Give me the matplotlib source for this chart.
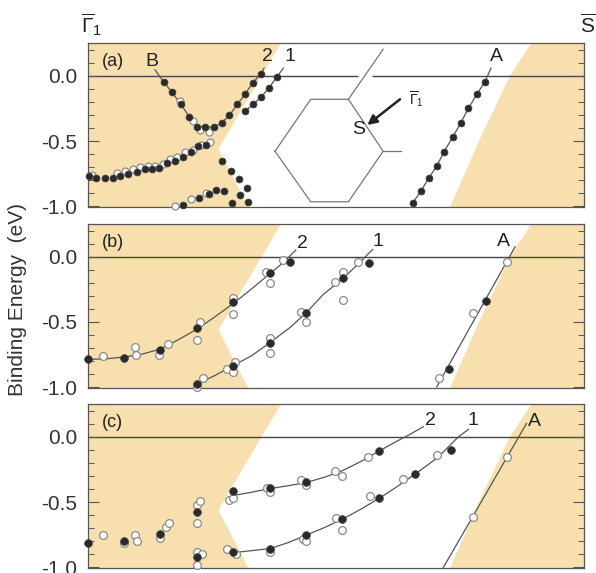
import matplotlib.pyplot as plt
from matplotlib.ticker import MultipleLocator, FormatStrFormatter

plt.rcParams['font.family'] = ['Liberation Sans', 'DejaVu Sans']
plt.rcParams['mathtext.fontset'] = 'custom'
plt.rcParams['mathtext.rm'] = 'Liberation Sans'
plt.rcParams['mathtext.it'] = 'Liberation Sans:italic'
plt.rcParams['axes.unicode_minus'] = False

# k runs from Gamma1-bar (0) to S-bar (1), energies in eV
E_TOP, E_BOT = 0.25, -1.005

# projected bulk bands (same shape in all three panels)
bulk_left_k = [0.389, 0.263, 0.323]
bulk_left_E = [E_TOP, -0.56, E_BOT]
bulk_right_k = [0.894, 0.851, 0.790, 0.730]
bulk_right_E = [E_TOP, 0.0, -0.485, E_BOT]

# ---- panel (a)
a_fill_k = [0.153, 0.169, 0.187, 0.204, 0.219, 0.236, 0.253, 0.270, 0.285, 0.301, 0.317, 0.332, 0.348,
            0.317, 0.333, 0.349, 0.365, 0.380,
            0.001, 0.017, 0.034, 0.051, 0.065, 0.081, 0.098, 0.115, 0.128, 0.144, 0.159, 0.175, 0.191, 0.207, 0.222, 0.238,
            0.271, 0.288, 0.305, 0.321, 0.306, 0.290, 0.323,
            0.192, 0.224, 0.243, 0.258, 0.274,
            0.655, 0.671, 0.687, 0.703, 0.718, 0.735, 0.751, 0.767, 0.784, 0.800]
a_fill_E = [-0.050, -0.126, -0.217, -0.313, -0.389, -0.389, -0.396, -0.359, -0.303, -0.220, -0.139, -0.055, 0.013,
            -0.270, -0.220, -0.162, -0.093, -0.013,
            -0.768, -0.780, -0.780, -0.780, -0.768, -0.750, -0.737, -0.717, -0.717, -0.705, -0.667, -0.649, -0.624, -0.586, -0.535, -0.528,
            -0.654, -0.732, -0.788, -0.858, -0.914, -0.977, -0.970,
            -0.990, -0.939, -0.909, -0.876, -0.884,
            -0.972, -0.884, -0.783, -0.692, -0.581, -0.472, -0.364, -0.250, -0.141, -0.048]
a_open_k = [0.185, 0.212, 0.226, 0.243,
            0.007, 0.058, 0.075, 0.090, 0.105, 0.120, 0.135, 0.151, 0.165, 0.180, 0.196, 0.212, 0.228, 0.245,
            0.175, 0.208, 0.238]
a_open_E = [-0.194, -0.346, -0.414, -0.434,
            -0.763, -0.745, -0.732, -0.717, -0.702, -0.692, -0.692, -0.677, -0.641, -0.621, -0.586, -0.566, -0.528, -0.510,
            -0.997, -0.947, -0.894]
a_curves = [
    ([0.135, 0.153, 0.169, 0.187, 0.204, 0.219, 0.236, 0.253, 0.270, 0.285, 0.301, 0.317, 0.332, 0.348, 0.355],
     [0.045, -0.050, -0.126, -0.217, -0.313, -0.389, -0.389, -0.396, -0.359, -0.303, -0.220, -0.139, -0.055, 0.013, 0.058]),
    ([0.317, 0.333, 0.349, 0.365, 0.380, 0.394],
     [-0.270, -0.220, -0.162, -0.093, -0.013, 0.058]),
    ([0.655, 0.671, 0.687, 0.703, 0.718, 0.735, 0.751, 0.767, 0.784, 0.800, 0.8125],
     [-0.972, -0.884, -0.783, -0.692, -0.581, -0.472, -0.364, -0.250, -0.141, -0.048, 0.058]),
]
a_labels = [('B', 0.129, 0.106), ('2', 0.362, 0.146), ('1', 0.407, 0.146), ('A', 0.824, 0.146)]

# ---- panel (b)
b_fill_k = [0.0, 0.073, 0.145, 0.219, 0.293, 0.366, 0.407,
            0.219, 0.293, 0.366, 0.440, 0.515, 0.567,
            0.728, 0.802]
b_fill_E = [-0.783, -0.778, -0.712, -0.543, -0.348, -0.126, -0.038,
            -0.977, -0.833, -0.662, -0.429, -0.164, -0.051,
            -0.859, -0.341]
b_open_k = [0.031, 0.095, 0.097, 0.144, 0.161, 0.219, 0.226, 0.293, 0.293, 0.359, 0.367, 0.394,
            0.219, 0.231, 0.280, 0.293, 0.296, 0.366, 0.367, 0.429, 0.440, 0.497, 0.515, 0.515, 0.545,
            0.708, 0.776, 0.844]
b_open_E = [-0.758, -0.689, -0.750, -0.750, -0.669, -0.636, -0.500, -0.316, -0.442, -0.114, -0.202, -0.025,
            -0.997, -0.927, -0.859, -0.879, -0.803, -0.626, -0.737, -0.424, -0.500, -0.194, -0.114, -0.328, -0.043,
            -0.927, -0.434, -0.043]
b_curves = [
    ([0.0, 0.036, 0.073, 0.110, 0.145, 0.182, 0.219, 0.256, 0.293, 0.330, 0.366, 0.392, 0.419],
     [-0.786, -0.782, -0.768, -0.745, -0.708, -0.636, -0.556, -0.460, -0.358, -0.246, -0.132, -0.050, 0.050]),
    ([0.219, 0.256, 0.293, 0.330, 0.366, 0.407, 0.440, 0.474, 0.515, 0.545, 0.574],
     [-0.977, -0.909, -0.833, -0.758, -0.660, -0.543, -0.429, -0.290, -0.164, -0.055, 0.056]),
    ([0.703, 0.861], [-0.997, 0.076]),
]
b_labels = [('2', 0.433, 0.104), ('1', 0.585, 0.114), ('A', 0.837, 0.114)]

# ---- panel (c)
c_fill_k = [0.0, 0.073, 0.145, 0.219, 0.219,
            0.293, 0.366, 0.440, 0.587,
            0.293, 0.366, 0.440, 0.513, 0.587, 0.660, 0.732]
c_fill_E = [-0.810, -0.798, -0.745, -0.576, -0.919,
            -0.412, -0.396, -0.348, -0.106,
            -0.884, -0.856, -0.753, -0.631, -0.472, -0.285, -0.101]
c_open_k = [0.030, 0.073, 0.094, 0.099, 0.145, 0.157, 0.164, 0.219, 0.226, 0.219, 0.219, 0.230, 0.219,
            0.285, 0.293, 0.361, 0.366, 0.429, 0.440, 0.497, 0.513, 0.565,
            0.281, 0.298, 0.366, 0.433, 0.440, 0.500, 0.513, 0.569, 0.636, 0.703,
            0.776, 0.844]
c_open_E = [-0.750, -0.813, -0.750, -0.795, -0.775, -0.694, -0.659, -0.525, -0.492, -0.664, -0.884, -0.894, -0.985,
            -0.485, -0.472, -0.394, -0.427, -0.333, -0.371, -0.260, -0.303, -0.152,
            -0.856, -0.897, -0.881, -0.783, -0.795, -0.626, -0.715, -0.455, -0.323, -0.139,
            -0.611, -0.159]
c_curves = [
    ([0.290, 0.330, 0.367, 0.404, 0.440, 0.477, 0.513, 0.550, 0.587, 0.620, 0.650, 0.676],
     [-0.452, -0.425, -0.397, -0.375, -0.350, -0.310, -0.260, -0.190, -0.110, -0.040, 0.020, 0.076]),
    ([0.296, 0.330, 0.367, 0.404, 0.440, 0.477, 0.513, 0.550, 0.587, 0.624, 0.660, 0.705, 0.747, 0.767],
     [-0.886, -0.872, -0.856, -0.810, -0.753, -0.695, -0.631, -0.555, -0.472, -0.380, -0.285, -0.160, 0.0, 0.056]),
    ([0.716, 0.884], [-1.003, 0.101]),
]
c_labels = [('2', 0.690, 0.125), ('1', 0.777, 0.125), ('A', 0.901, 0.118)]

# surface Brillouin zone sketch in panel (a), axes fraction
hex_x = [0.377, 0.449, 0.525, 0.595, 0.525, 0.449, 0.377]
hex_y = [0.340, 0.657, 0.657, 0.340, 0.032, 0.032, 0.340]

BULK = '#f7e0ad'
FILLED = '#2a2a2a'
OPEN_EDGE = '#8a8a8a'
LINE = '#555555'

fig = plt.figure(figsize=(5.96, 5.73), dpi=100)
rects = [[0.1477, 0.6387, 0.8322, 0.2862],
         [0.1477, 0.3229, 0.8322, 0.2862],
         [0.1477, 0.0087, 0.8322, 0.2862]]

panels = [
    ('(a)', a_fill_k, a_fill_E, a_open_k, a_open_E, a_curves, a_labels, 5.0),
    ('(b)', b_fill_k, b_fill_E, b_open_k, b_open_E, b_curves, b_labels, 5.6),
    ('(c)', c_fill_k, c_fill_E, c_open_k, c_open_E, c_curves, c_labels, 5.6),
]

axes = []
for rect, (tag, fk, fE, ok, oE, curves, labels, ms) in zip(rects, panels):
    ax = fig.add_axes(rect)
    axes.append(ax)
    ax.set_xlim(0, 1)
    ax.set_ylim(E_BOT, E_TOP)

    ax.fill([0] + bulk_left_k + [0], [E_TOP] + bulk_left_E + [E_BOT],
            color=BULK, lw=0, zorder=0)
    ax.fill([1] + bulk_right_k + [1], [E_TOP] + bulk_right_E + [E_BOT],
            color=BULK, lw=0, zorder=0)

    # Fermi level
    if tag == '(a)':
        ax.hlines(0, 0, 0.544, color='#444444', lw=1.0, zorder=1)
        ax.hlines(0, 0.573, 1, color='#444444', lw=1.0, zorder=1)
    else:
        ax.axhline(0, color='#444444', lw=1.0, zorder=1)

    for ck, cE in curves:
        ax.plot(ck, cE, color=LINE, lw=0.9, zorder=2)

    ax.plot(ok, oE, 'o', ms=ms, mfc='white', mec=OPEN_EDGE, mew=0.9, zorder=3, clip_on=False)
    ax.plot(fk, fE, 'o', ms=ms, mfc=FILLED, mec='#444444', mew=0.5, zorder=4, clip_on=False)

    for s, k, e in labels:
        ax.text(k, e, s, ha='center', va='center', fontsize=14, color='#222222')
    ax.text(0.028, 0.886, tag, transform=ax.transAxes, ha='left', va='center',
            fontsize=13, color='#222222')

    ax.set_xticks([])
    ax.yaxis.set_major_locator(MultipleLocator(0.5))
    ax.yaxis.set_minor_locator(MultipleLocator(0.1))
    ax.yaxis.set_major_formatter(FormatStrFormatter('%.1f'))
    ax.tick_params(axis='y', which='both', direction='in', left=True, right=True,
                   colors='#555555', labelcolor='#333333', labelsize=15)
    ax.tick_params(axis='y', which='major', length=8, width=0.8, pad=8)
    ax.tick_params(axis='y', which='minor', length=4, width=0.7)
    for sp in ax.spines.values():
        sp.set_color('#555555')
        sp.set_linewidth(0.9)

# Brillouin zone inset
ax = axes[0]
ax.plot(hex_x, hex_y, color='#777777', lw=0.9, transform=ax.transAxes, zorder=2)
ax.plot([0.525, 0.595], [0.657, 0.962], color='#777777', lw=0.9, transform=ax.transAxes, zorder=2)
ax.plot([0.595, 0.632], [0.340, 0.340], color='#777777', lw=0.9, transform=ax.transAxes, zorder=2)
ax.text(0.545, 0.47, 'S', transform=ax.transAxes, ha='center', va='center', fontsize=14, color='#222222')
ax.text(0.648, 0.66, r'$\overline{\Gamma}_1$', transform=ax.transAxes, ha='left', va='center',
        fontsize=10, color='#222222')
ax.annotate('', xy=(0.563, 0.50), xytext=(0.629, 0.657), xycoords='axes fraction',
            arrowprops=dict(arrowstyle='-|>', lw=1.8, color='#222222', mutation_scale=14,
                            shrinkA=0, shrinkB=0))

fig.text(0.154, 1 - 33 / 573, r'$\overline{\Gamma}_1$', ha='center', va='baseline',
         fontsize=15, color='#222222')
fig.text(0.987, 1 - 33 / 573, r'$\overline{\mathrm{S}}$', ha='center', va='baseline',
         fontsize=15, color='#222222')
fig.text(0.03, 1 - 300 / 573, 'Binding Energy  (eV)', rotation=90, ha='center', va='center',
         fontsize=15, color='#333333')

fig.savefig('out.png', dpi=100)
